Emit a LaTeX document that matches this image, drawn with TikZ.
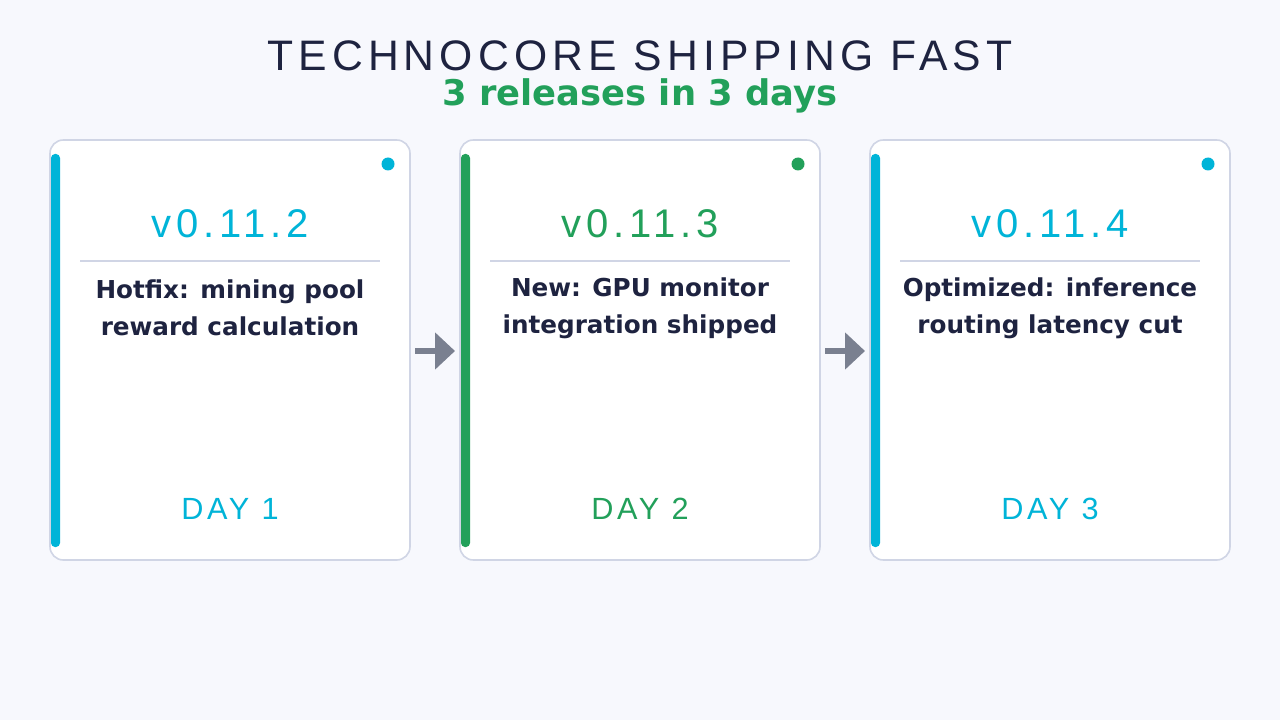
\documentclass[tikz,border=0pt]{standalone}
\usepackage{fontspec}
\setmainfont{DejaVu Sans}
\newfontfamily\techfont{Liberation Sans}
\newfontfamily\techwide{Liberation Sans}[LetterSpace=12]
\definecolor{bg}{HTML}{F7F8FD}
\definecolor{navy}{HTML}{1E2340}
\definecolor{cyanc}{HTML}{00B4D8}
\definecolor{greenc}{HTML}{22A05A}
\definecolor{bord}{HTML}{D0D5E5}
\definecolor{arrowc}{HTML}{7A8090}
\tikzset{
 card/.style={draw=bord,line width=1.2pt,fill=white,rounded corners=10pt},
 ver/.style={font=\techwide\fontsize{30}{30}\selectfont,inner sep=0pt},
 desc/.style={font=\bfseries\fontsize{18.5}{28}\selectfont,text=navy,align=center},
 day/.style={font=\techwide\fontsize{23}{23}\selectfont,inner sep=0pt},
 arr/.style={draw=arrowc,line width=4pt,-{Triangle[length=15pt,width=27pt]}}
}
\usetikzlibrary{arrows.meta}
\begin{document}
\begin{tikzpicture}[x=0.75pt,y=-0.75pt]
\fill[bg] (0,0) rectangle (1280,720);
\useasboundingbox (0,0) rectangle (1280,720);
\node[font=\techwide\fontsize{32}{32}\selectfont,text=navy,inner sep=0pt] (title) at (640,56) {TECHNOCORE SHIPPING FAST};
\node[font=\bfseries\fontsize{26.5}{26.5}\selectfont,text=greenc,inner sep=0pt] (sub) at (640,96) {3 releases in 3 days};
\foreach \i/\x/\c/\v/\la/\lb in {1/50/cyanc/v0.11.2/Hotfix: mining pool/reward calculation,
  2/460/greenc/v0.11.3/New: GPU monitor/integration shipped,
  3/870/cyanc/v0.11.4/Optimized: inference/routing latency cut}{
  \draw[card] (\x,140) rectangle ++(360,420);
  \fill[\c,rounded corners=3pt] (\x+1,154) rectangle ++(9,393);
  \fill[\c] (\x+338,164) circle (6.5);
  \node[ver,text=\c] (v\i) at (\x+180,224) {\v};
  \draw[bord,line width=1.2pt] (\x+30,261) -- (\x+330,261);
  \node[desc] (d\i) at (\x+180,308) {\la\\\lb};
  \node[day,text=\c] (day\i) at (\x+180,509) {DAY \i};
  \coordinate (r\i) at (\x+365,351);
  \coordinate (l\i) at (\x-5,351);
}
\draw[arr] (r1) -- (l2);
\draw[arr] (r2) -- (l3);
\end{tikzpicture}
\end{document}
